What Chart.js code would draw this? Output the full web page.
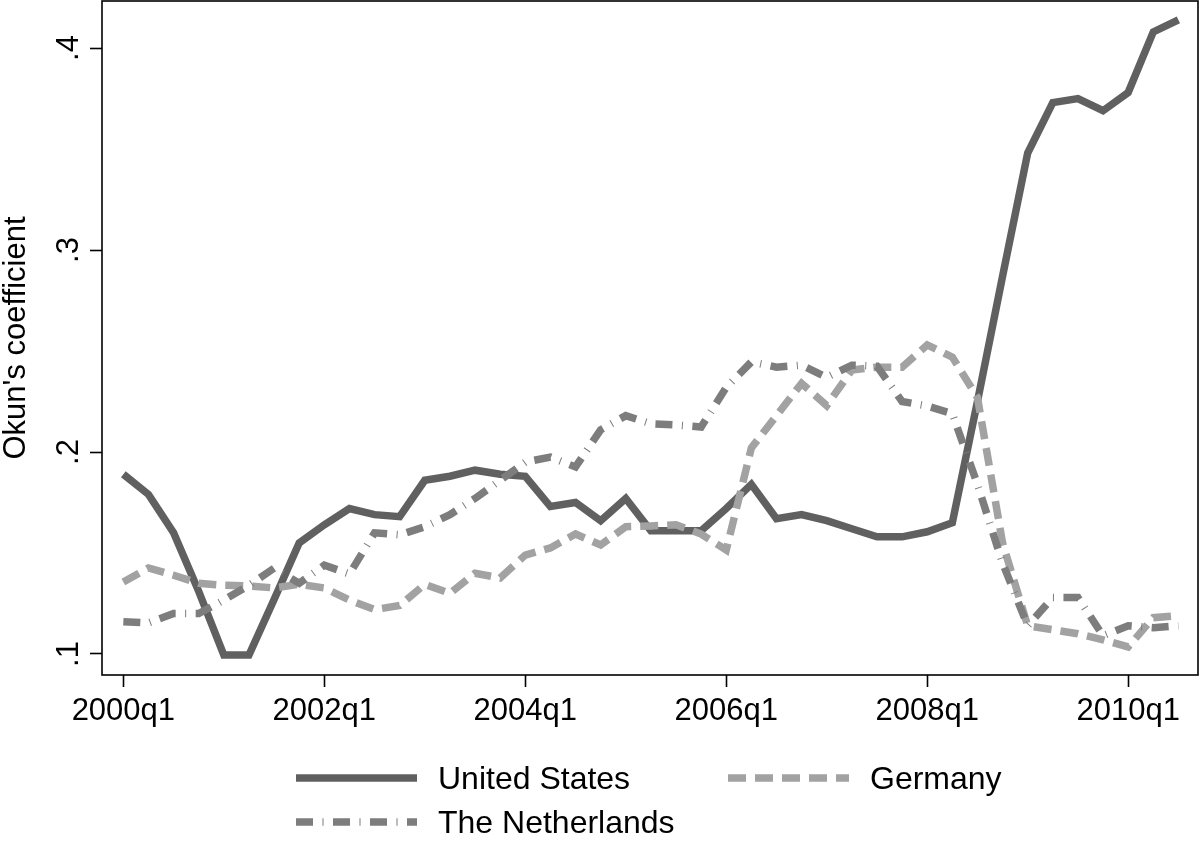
<!DOCTYPE html>
<html>
<head>
<meta charset="utf-8">
<title>Okun's coefficient</title>
<script src="https://cdn.jsdelivr.net/npm/chart.js@4.4.1/dist/chart.umd.min.js"></script>
<style>
  html, body { margin: 0; padding: 0; background: #fff; }
  #wrap { width: 1200px; height: 843px; }
</style>
</head>
<body>
<div id="wrap"><canvas id="okunChart" width="1200" height="843"></canvas></div>
<script>
// ---- datos ----
const quarters = [
  '2000q1','2000q2','2000q3','2000q4','2001q1','2001q2','2001q3','2001q4',
  '2002q1','2002q2','2002q3','2002q4','2003q1','2003q2','2003q3','2003q4',
  '2004q1','2004q2','2004q3','2004q4','2005q1','2005q2','2005q3','2005q4',
  '2006q1','2006q2','2006q3','2006q4','2007q1','2007q2','2007q3','2007q4',
  '2008q1','2008q2','2008q3','2008q4','2009q1','2009q2','2009q3','2009q4',
  '2010q1','2010q2','2010q3'
];

const seriesNames = ['United States', 'Germany', 'The Netherlands'];

const usValues = [
  .189, .179, .160, .131, .0995, .0995, .127, .155,
  .164, .172, .169, .168, .186, .188, .191, .189,
  .188, .173, .175, .166, .177, .161, .161, .161,
  .172, .184, .167, .169, .166, .162, .158, .158,
  .1605, .165, .225, .287, .348, .373, .375, .369,
  .378, .408, .414
];

const germanyValues = [
  .1356, .1426, .139, .135, .134, .1337, .1327, .1345,
  .1327, .1267, .122, .124, .1345, .130, .140, .1376,
  .149, .1525, .1594, .154, .163, .1634, .164, .1594,
  .1515, .202, .218, .234, .223, .2406, .242, .242,
  .253, .247, .227, .155, .114, .112, .110, .107,
  .1035, .118, .119
];

const netherlandsValues = [
  .116, .1154, .120, .120, .1267, .134, .1425, .135,
  .144, .1396, .160, .159, .163, .169, .177, .186,
  .195, .1975, .1926, .211, .218, .214, .2134, .2124,
  .232, .2446, .242, .243, .237, .243, .2425, .225,
  .2228, .219, .184, .145, .114, .128, .128, .109,
  .114, .113, .114
];

const FONT_FAMILY = "'Liberation Sans', Arial, Helvetica, sans-serif";
const FONT = '31px ' + FONT_FAMILY;
const LEGEND_FONT = '32px ' + FONT_FAMILY;

function toPoints(values) {
  return values.map((v, i) => ({ x: i, y: v }));
}

// marco tipo Stata + etiquetas verticales del eje y + leyenda en dos columnas
const stataDecor = {
  id: 'stataDecor',
  afterDraw(chart) {
    const { ctx, chartArea: a, scales: { y } } = chart;
    ctx.save();
    ctx.strokeStyle = '#000';
    ctx.lineWidth = 1.6;
    ctx.setLineDash([]);
    ctx.strokeRect(a.left, a.top, a.right - a.left, a.bottom - a.top);

    ctx.fillStyle = '#000';
    ctx.font = FONT;
    ctx.textAlign = 'center';
    ctx.textBaseline = 'alphabetic';
    y.ticks.forEach(t => {
      const py = y.getPixelForValue(t.value);
      ctx.save();
      ctx.translate(78, py);
      ctx.rotate(-Math.PI / 2);
      ctx.fillText(t.value.toFixed(1).replace(/^0/, ''), 0, 0);
      ctx.restore();
    });

    // leyenda
    const slots = [
      { x: 296, y: 778 },   // United States
      { x: 728, y: 778 },   // Germany
      { x: 296, y: 822 }    // The Netherlands
    ];
    ctx.font = LEGEND_FONT;
    chart.data.datasets.forEach((ds, i) => {
      const s = slots[i];
      ctx.beginPath();
      ctx.strokeStyle = ds.borderColor;
      ctx.lineWidth = ds.borderWidth;
      ctx.lineCap = 'butt';
      ctx.setLineDash(ds.borderDash || []);
      ctx.moveTo(s.x, s.y);
      ctx.lineTo(s.x + 121, s.y);
      ctx.stroke();
      ctx.setLineDash([]);
      ctx.fillStyle = '#000';
      ctx.textAlign = 'left';
      ctx.textBaseline = 'alphabetic';
      ctx.fillText(ds.label, s.x + 142, s.y + 11);
    });
    ctx.restore();
  }
};

const okunChart = new Chart(document.getElementById('okunChart'), {
  type: 'line',
  data: {
    datasets: [
      {
        label: seriesNames[0],
        data: toPoints(usValues),
        borderColor: '#606060',
        borderWidth: 7.5,
        borderDash: [],
        order: 3
      },
      {
        label: seriesNames[1],
        data: toPoints(germanyValues),
        borderColor: '#a2a2a2',
        borderWidth: 7.5,
        borderDash: [18, 9],
        order: 2
      },
      {
        label: seriesNames[2],
        data: toPoints(netherlandsValues),
        borderColor: '#7d7d7d',
        borderWidth: 7.5,
        borderDash: [17, 9.5, 1, 9.5],
        order: 1
      }
    ]
  },
  options: {
    responsive: false,
    animation: false,
    devicePixelRatio: 1,
    layout: { padding: { top: 1, right: 2, left: 0, bottom: 0 } },
    elements: {
      point: { radius: 0, hoverRadius: 0 },
      line: { tension: 0, fill: false }
    },
    plugins: {
      legend: { display: false },
      tooltip: { enabled: false }
    },
    scales: {
      x: {
        type: 'linear',
        min: -0.85,
        max: 42.78,
        afterFit: scale => { scale.height = 168; },
        border: { display: false },
        grid: {
          drawOnChartArea: false,
          tickLength: 12,
          tickColor: '#000',
          tickWidth: 1.6
        },
        ticks: {
          stepSize: 8,
          includeBounds: false,
          autoSkip: false,
          maxRotation: 0,
          padding: 6,
          color: '#000',
          font: { family: FONT_FAMILY, size: 31 },
          callback: value => quarters[value]
        }
      },
      y: {
        min: 0.0896,
        max: 0.4233,
        afterFit: scale => { scale.width = 102; },
        border: { display: false },
        grid: {
          drawOnChartArea: false,
          tickLength: 12,
          tickColor: '#000',
          tickWidth: 1.6
        },
        ticks: {
          stepSize: 0.1,
          includeBounds: false,
          display: false
        },
        title: {
          display: true,
          text: "Okun's coefficient",
          color: '#000',
          padding: 0,
          font: { family: FONT_FAMILY, size: 31, lineHeight: 1.05 }
        }
      }
    }
  },
  plugins: [stataDecor]
});
</script>
</body>
</html>
